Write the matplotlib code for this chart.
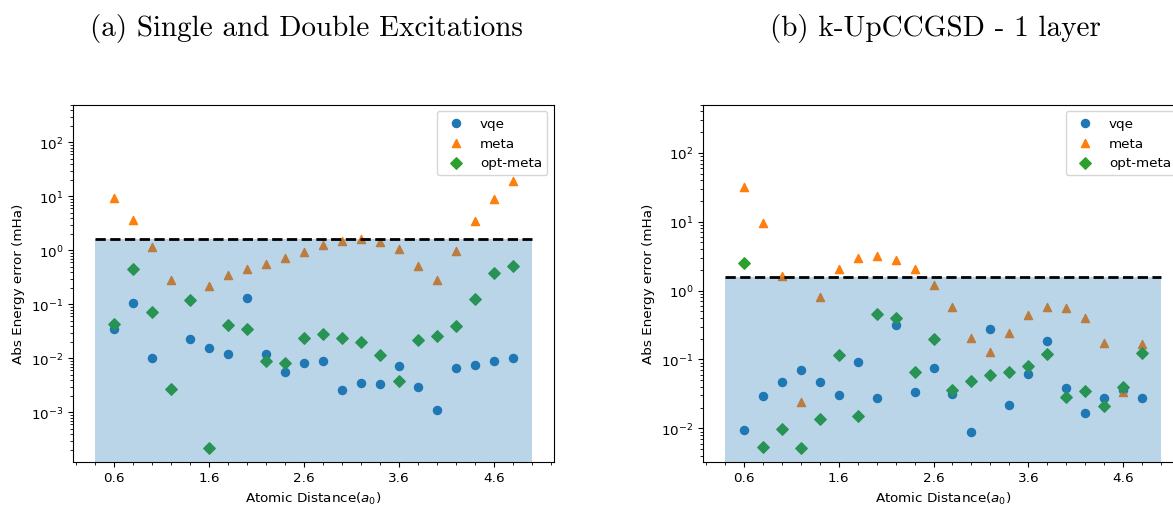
import numpy as np
import matplotlib
matplotlib.use('Agg')
import matplotlib.pyplot as plt
from matplotlib.ticker import MultipleLocator, FixedLocator

# Atomic distances (a0)
distances = [0.6, 0.8, 1.0, 1.2, 1.4, 1.6, 1.8, 2.0, 2.2, 2.4, 2.6,
             2.8, 3.0, 3.2, 3.4, 3.6, 3.8, 4.0, 4.2, 4.4, 4.6, 4.8]

# (a) Single and Double Excitations  -- abs energy error in mHa
sd_vqe = [0.035, 0.104, 0.0100, np.nan, 0.0225, 0.0158, 0.0122, 0.129, 0.0119, 0.0056, 0.0082,
          0.0088, 0.00256, 0.00355, 0.0034, 0.0072, 0.0029, 0.00112, 0.0066, 0.0074, 0.0088, 0.0100]
sd_meta = [9.4, 3.6, 1.14, 0.28, np.nan, 0.22, 0.344, 0.457, 0.567, 0.72, 0.93,
           1.26, 1.47, 1.62, 1.43, 1.04, 0.52, 0.278, 0.96, 3.5, 8.9, 19.0]
sd_opt = [0.0438, 0.457, 0.072, 0.00267, 0.119, 0.00022, 0.0408, 0.0344, 0.0089, 0.0082, 0.0238,
          0.0282, 0.0238, 0.020, 0.0114, 0.00375, 0.0219, 0.0259, 0.0403, 0.124, 0.375, 0.52]

# (b) k-UpCCGSD - 1 layer
kup_vqe = [0.0095, 0.0291, 0.0475, 0.070, 0.0475, 0.0304, 0.0905, 0.0275, 0.315, 0.0333, 0.074,
           0.0315, 0.00895, 0.281, 0.022, 0.0613, 0.184, 0.038, 0.0165, 0.0275, 0.036, 0.0275]
kup_meta = [31.8, 9.7, 1.65, 0.024, 0.81, 2.04, 2.94, 3.15, 2.75, 2.04, 1.22,
            0.586, 0.208, 0.128, 0.246, 0.44, 0.573, 0.555, 0.397, 0.176, 0.034, 0.17]
kup_opt = [2.49, 0.00542, 0.0098, 0.0051, 0.0135, 0.117, 0.0153, 0.454, 0.397, 0.0648, 0.20,
           0.0356, 0.049, 0.0593, 0.0648, 0.080, 0.121, 0.0281, 0.0351, 0.0213, 0.040, 0.124]

chem_acc = 1.6          # chemical accuracy (mHa)
band_x = [0.4, 5.0]     # extent of the chemical accuracy band
titles = ['(a) Single and Double Excitations', '(b) k-UpCCGSD - 1 layer']
ylims = [(1.22e-4, 500), (3.28e-3, 500)]

fs = 9.7
fig = plt.figure(figsize=(11.73, 5.06), dpi=100)
ax1 = fig.add_axes([73/1173, 43.3/506, 481/1173, 357/506])
ax2 = fig.add_axes([703/1173, 43.3/506, 480/1173, 357/506])

datasets = [(sd_vqe, sd_meta, sd_opt), (kup_vqe, kup_meta, kup_opt)]
for ax, (vqe, meta, opt), ylim in zip([ax1, ax2], datasets, ylims):
    ax.scatter(distances, vqe, marker='o', s=34, color='C0', label='vqe')
    ax.scatter(distances, meta, marker='^', s=34, color='C1', label='meta')
    ax.scatter(distances, opt, marker='D', s=34, color='C2', label='opt-meta')
    ax.fill_between(band_x, chem_acc, 1e-8, color='C0', alpha=0.3, linewidth=0)
    ax.plot(band_x, [chem_acc, chem_acc], 'k--', lw=2)
    ax.set_yscale('log')
    ax.set_ylim(*ylim)
    ax.set_xlim(0.17, 5.23)
    ax.xaxis.set_major_locator(FixedLocator([0.6, 1.6, 2.6, 3.6, 4.6]))
    ax.xaxis.set_minor_locator(MultipleLocator(0.2))
    ax.tick_params(labelsize=fs)
    ax.set_xlabel('Atomic Distance($a_0$)', fontsize=fs)
    ax.set_ylabel('Abs Energy error (mHa)', fontsize=fs)
    ax.legend(loc='upper right', fontsize=fs)

fig.text(306/1173, 1 - 36/506, titles[0], ha='center', va='baseline',
         fontfamily='cmr10', fontsize=21)
fig.text(935/1173, 1 - 36/506, titles[1], ha='center', va='baseline',
         fontfamily='cmr10', fontsize=21)

fig.savefig('out.png', dpi=100)
